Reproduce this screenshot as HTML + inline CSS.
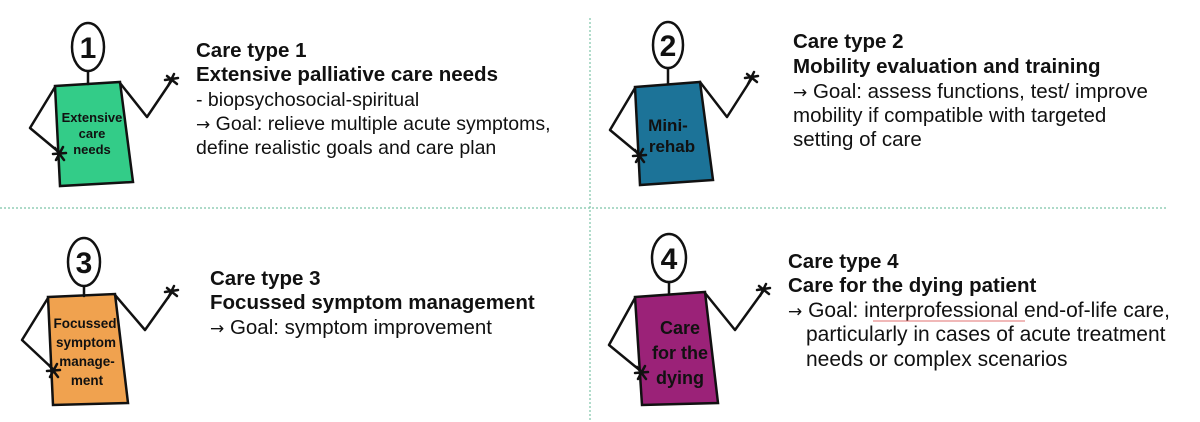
<!DOCTYPE html>
<html><head><meta charset="utf-8"><style>
html,body{margin:0;padding:0;background:#fff;}
svg{display:block;}
text{font-family:"Liberation Sans",Arial,sans-serif;fill:#111;}
.b{font-weight:bold;font-size:20.5px;}
.r{font-size:20.5px;}
.r1{font-size:19.5px;}
.r4{font-size:21px;}
.ar{font-family:"DejaVu Sans",sans-serif;font-size:17px;}
.fig{stroke:#111;stroke-width:2.5;fill:none;stroke-linejoin:round;stroke-linecap:round;}
.num{font-weight:bold;font-size:30px;text-anchor:middle;}
.lab{font-weight:bold;text-anchor:middle;}
</style></head><body>
<svg width="1200" height="422" viewBox="0 0 1200 422" xmlns="http://www.w3.org/2000/svg">
<line x1="0" y1="208" x2="1168" y2="208" stroke="#7cc4a8" stroke-width="1.2" stroke-dasharray="2,2"/>
<line x1="590" y1="18" x2="590" y2="420" stroke="#7cc4a8" stroke-width="1.2" stroke-dasharray="2,2"/>

<!-- Figure 1 -->
<g>
<polygon points="55,86 120,82 133,182 60,186" fill="#33cc88" stroke="#111" stroke-width="2.5"/>
<line class="fig" x1="88" y1="71" x2="88" y2="84"/>
<ellipse cx="88" cy="47" rx="16" ry="24" fill="#fff" stroke="#111" stroke-width="2.5"/>
<text class="num" x="88" y="58">1</text>
<polyline class="fig" points="120,83 147,117 172,80"/>
<path class="fig" d="M167,76 L177,84 M174,74 L168,86 M178,78 L165,80"/>
<polyline class="fig" points="55,87 30,128 60,153"/>
<path class="fig" d="M55,148 L64,160 M63,147 L56,160 M53,154 L66,153"/>
<text class="lab" x="92" y="122" font-size="13">Extensive</text>
<text class="lab" x="92" y="138" font-size="13">care</text>
<text class="lab" x="92" y="154" font-size="13">needs</text>
</g>
<text class="b" x="196" y="57">Care type 1</text>
<text class="b" x="196" y="81">Extensive palliative care needs</text>
<text class="r1" x="196" y="106">- biopsychosocial-spiritual</text>
<text class="r1" x="196" y="130"><tspan class="ar">→</tspan> Goal: relieve multiple acute symptoms,</text>
<text class="r1" x="196" y="154">define realistic goals and care plan</text>

<!-- Figure 2 -->
<g>
<polygon points="635,87 700,82 713,180 640,185" fill="#1c7398" stroke="#111" stroke-width="2.5"/>
<line class="fig" x1="668" y1="68" x2="668" y2="84"/>
<ellipse cx="668" cy="45" rx="15" ry="23" fill="#fff" stroke="#111" stroke-width="2.5"/>
<text class="num" x="668" y="56">2</text>
<polyline class="fig" points="700,82 727,117 752,78"/>
<path class="fig" d="M747,74 L757,82 M754,72 L748,84 M758,76 L745,78"/>
<polyline class="fig" points="635,88 610,130 640,155"/>
<path class="fig" d="M635,150 L644,162 M643,149 L636,162 M633,156 L646,155"/>
<text class="lab" x="668" y="131" font-size="17">Mini-</text>
<text class="lab" x="672" y="152" font-size="17">rehab</text>
</g>
<text class="b" x="793" y="48">Care type 2</text>
<text class="b" x="793" y="73">Mobility evaluation and training</text>
<text class="r" x="793" y="98"><tspan class="ar">→</tspan> Goal: assess functions, test/ improve</text>
<text class="r" x="793" y="122">mobility if compatible with targeted</text>
<text class="r" x="793" y="146">setting of care</text>

<!-- Figure 3 -->
<g>
<polygon points="48,297 115,294 128,403 53,405" fill="#f0a24f" stroke="#111" stroke-width="2.5"/>
<line class="fig" x1="84" y1="286" x2="84" y2="296"/>
<ellipse cx="84" cy="262" rx="16" ry="24" fill="#fff" stroke="#111" stroke-width="2.5"/>
<text class="num" x="84" y="273">3</text>
<polyline class="fig" points="115,295 145,330 172,292"/>
<path class="fig" d="M167,288 L177,296 M174,286 L168,298 M178,290 L165,292"/>
<polyline class="fig" points="48,298 22,340 54,370"/>
<path class="fig" d="M49,365 L58,377 M57,364 L50,377 M47,371 L60,370"/>
<text class="lab" x="85" y="328" font-size="13.5">Focussed</text>
<text class="lab" x="86" y="347" font-size="13.5">symptom</text>
<text class="lab" x="87" y="366" font-size="13.5">manage-</text>
<text class="lab" x="87" y="385" font-size="13.5">ment</text>
</g>
<text class="b" x="210" y="285">Care type 3</text>
<text class="b" x="210" y="309">Focussed symptom management</text>
<text class="r" x="210" y="334"><tspan class="ar">→</tspan> Goal: symptom improvement</text>

<!-- Figure 4 -->
<g>
<polygon points="635,297 705,292 718,403 642,405" fill="#9b2278" stroke="#111" stroke-width="2.5"/>
<line class="fig" x1="669" y1="282" x2="669" y2="294"/>
<ellipse cx="669" cy="258" rx="17" ry="24" fill="#fff" stroke="#111" stroke-width="2.5"/>
<text class="num" x="669" y="269">4</text>
<polyline class="fig" points="705,293 735,330 764,290"/>
<path class="fig" d="M759,286 L769,294 M766,284 L760,296 M770,288 L757,290"/>
<polyline class="fig" points="635,298 609,345 642,372"/>
<path class="fig" d="M637,367 L646,379 M645,366 L638,379 M635,373 L648,372"/>
<text class="lab" x="680" y="334" font-size="18">Care</text>
<text class="lab" x="680" y="359" font-size="18">for the</text>
<text class="lab" x="680" y="384" font-size="18">dying</text>
</g>
<text class="b" x="788" y="268">Care type 4</text>
<text class="b" x="788" y="292">Care for the dying patient</text>
<text class="r4" x="788" y="317"><tspan class="ar">→</tspan>  Goal: interprofessional end-of-life care,</text>
<line x1="873" y1="321" x2="1025" y2="321" stroke="#e07070" stroke-width="1"/>
<text class="r4" x="806" y="341">particularly in cases of acute treatment</text>
<text class="r4" x="806" y="366">needs or complex scenarios</text>
</svg>
</body></html>
